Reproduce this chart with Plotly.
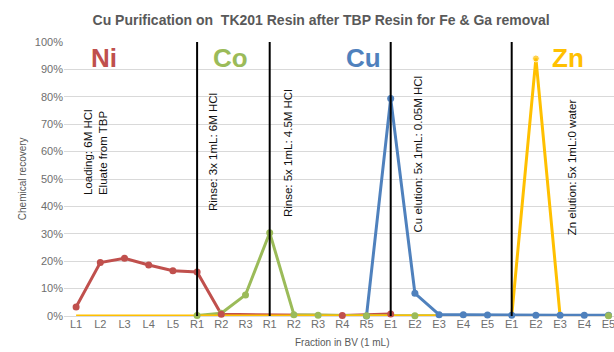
import plotly.graph_objects as go

# Fractions collected along the column sequence (load, rinses, elutions)
fractions = ["L1", "L2", "L3", "L4", "L5",
             "R1", "R2", "R3",
             "R1", "R2", "R3", "R4", "R5",
             "E1", "E2", "E3", "E4", "E5",
             "E1", "E2", "E3", "E4", "E5"]

# Chemical recovery per fraction (fraction of total); None = not plotted
ni = [0.033, 0.195, 0.211, 0.186, 0.165, 0.161, 0.006, None, None, None, None,
      0.002, None, 0.007, None, None, None, None, None, None, None, None, None]
co = [None, None, None, None, None, 0.002, 0.010, 0.077, 0.304, 0.005, 0.003,
      None, 0.001, None, 0.001, None, None, None, None, None, None, None, 0.001]
cu = [None, None, None, None, None, None, None, None, None, None, None, None,
      0.0, 0.794, 0.083, 0.005, 0.005, 0.004, 0.003, 0.003, 0.003, 0.003, 0.003]
zn = [0.0] * 19 + [0.94, 0.0, 0.0, 0.0]

# Boundaries between process steps (index of fraction where a step begins)
step_bounds = [5, 8, 13, 18]

step_notes = [
    ("Loading: 6M HCl<br>Eluate from TBP", 0.78, 0.434),
    ("Rinse: 3x 1mL: 6M HCl", 5.66, 0.376),
    ("Rinse: 5x 1mL: 4.5M HCl", 8.76, 0.354),
    ("Cu elution: 5x 1mL: 0.05M HCl", 14.13, 0.296),
    ("Zn elution: 5x 1mL:0 water", 20.5, 0.288),
]

elements = [("Ni", 1.16, "#C0504D"), ("Co", 6.40, "#9BBB59"),
            ("Cu", 11.86, "#4F81BD"), ("Zn", 20.33, "#FFC000")]

series = {"Ni": (ni, "#C0504D"), "Co": (co, "#9BBB59"),
          "Cu": (cu, "#4F81BD"), "Zn": (zn, "#FFC000")}

x = list(range(len(fractions)))

fig = go.Figure()

# Lines first
for name in ["Ni", "Co", "Zn", "Cu"]:
    vals, color = series[name]
    fig.add_trace(go.Scatter(x=x, y=vals, mode="lines", name=name,
                             line=dict(color=color, width=3),
                             connectgaps=True, cliponaxis=False,
                             showlegend=False, hoverinfo="skip"))

# Markers on top of all lines
for name in ["Zn", "Cu", "Co", "Ni"]:
    vals, color = series[name]
    if name == "Zn":
        sizes = [7 if (v or 0) > 0 else 0 for v in vals]
    else:
        sizes = 7
    fig.add_trace(go.Scatter(x=x, y=vals, mode="markers", name=name,
                             marker=dict(color=color, size=sizes),
                             cliponaxis=False, showlegend=False))

for b in step_bounds:
    fig.add_shape(type="line", xref="x", yref="y", x0=b, x1=b, y0=0, y1=1,
                  line=dict(color="black", width=2), layer="above")

for text, xi, yi in step_notes:
    fig.add_annotation(x=xi, y=yi, xref="x", yref="y", text=text,
                       textangle=-90, showarrow=False, align="left",
                       xanchor="center", yanchor="bottom",
                       font=dict(family="Liberation Sans", size=11.5, color="#111111"))

for label, xi, color in elements:
    fig.add_annotation(x=xi, y=0.94, xref="x", yref="y", text=f"<b>{label}</b>",
                       showarrow=False, xanchor="center", yanchor="middle",
                       font=dict(family="Liberation Sans", size=26, color=color))

# Axis titles
fig.add_annotation(x=0.505, y=-0.095, xref="paper", yref="paper",
                   text="Fraction in BV (1 mL)", showarrow=False,
                   xanchor="center", yanchor="middle",
                   font=dict(family="Liberation Sans", size=10, color="#595959"))
fig.add_annotation(x=-0.076, y=0.5, xref="paper", yref="paper",
                   text="Chemical recovery", showarrow=False, textangle=-90,
                   xanchor="center", yanchor="middle",
                   font=dict(family="Liberation Sans", size=10, color="#595959"))

fig.update_layout(
    width=614, height=352,
    margin=dict(l=64, r=0, t=42, b=36),
    paper_bgcolor="white", plot_bgcolor="white",
    title=dict(text="<b>Cu Purification on  TK201 Resin after TBP Resin for Fe & Ga removal</b>",
               x=0.523, xref="container", xanchor="center",
               y=1 - 20 / 352, yref="container", yanchor="middle",
               font=dict(family="Liberation Sans", size=14, color="#595959")),
    xaxis=dict(range=[-0.5, -0.5 + 550 / 24.2], tickmode="array",
               tickvals=x, ticktext=fractions, showgrid=False,
               zeroline=False, showline=False, ticks="",
               ticklabeloverflow="allow",
               tickfont=dict(family="Liberation Sans", size=11, color="#6E6E6E")),
    yaxis=dict(range=[0, 1], dtick=0.1, tickformat=".0%",
               showgrid=True, gridcolor="#D9D9D9", gridwidth=1,
               zeroline=True, zerolinecolor="#D9D9D9", zerolinewidth=1,
               showline=False, ticks="",
               tickfont=dict(family="Liberation Sans", size=11, color="#6E6E6E")),
)

fig.write_html("out.html")
